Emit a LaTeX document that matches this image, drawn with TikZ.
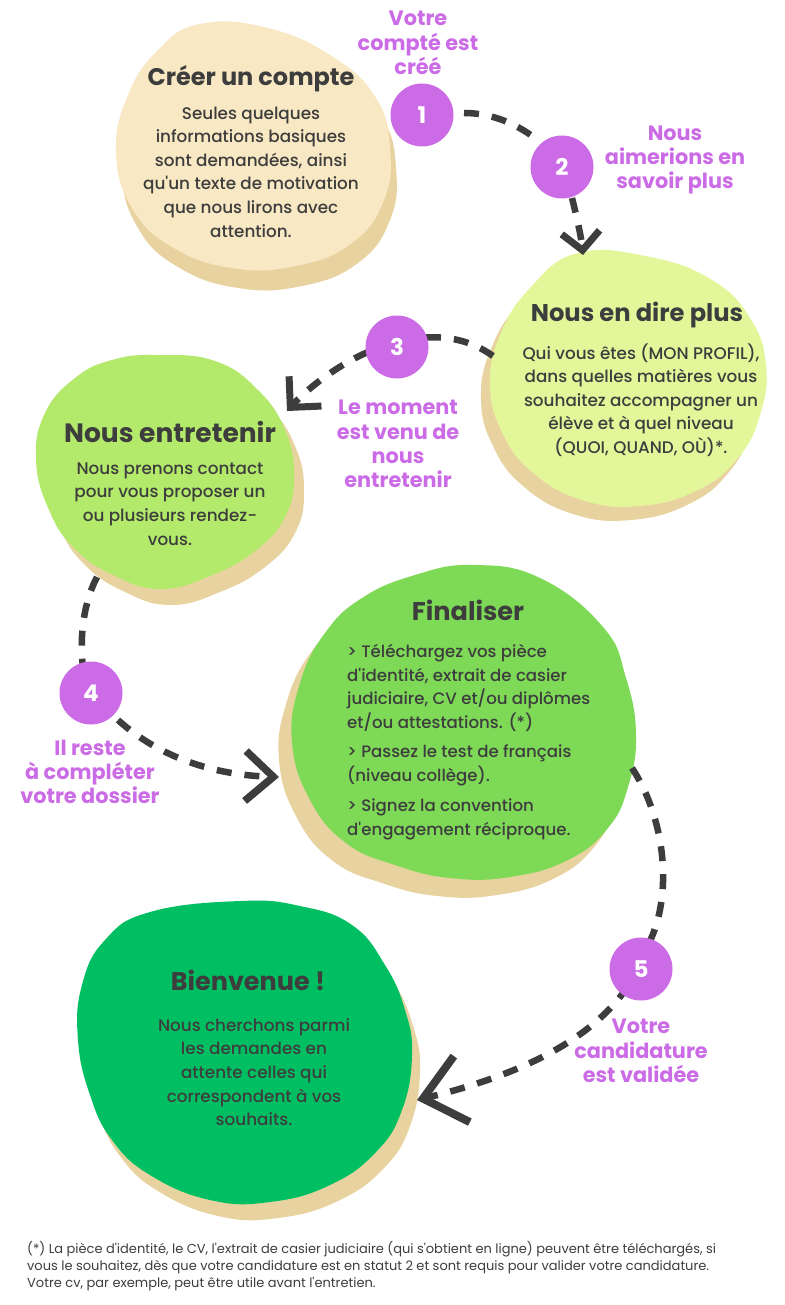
\documentclass[tikz,border=0pt]{standalone}
\usepackage{fontspec}
\setmainfont{Poppins}
\newfontfamily\bodyfont{Poppins Medium}
\usetikzlibrary{arrows.meta}

\definecolor{ink}{HTML}{3D3D3D}
\definecolor{tan}{HTML}{E8D3A0}
\definecolor{cream}{HTML}{F8E8C3}
\definecolor{lime}{HTML}{E3F79A}
\definecolor{leaf}{HTML}{B3EA6B}
\definecolor{grass}{HTML}{7ED957}
\definecolor{emerald}{HTML}{00BF63}
\definecolor{violet}{HTML}{CB6CE6}

\newcommand{\sq}{\textquotesingle}
% blob with its offset shadow: #1 outline, #2 shadow colour, #3 shadow offset, #4 fill
\newcommand{\blobshape}[4]{%
  \fill[#2, shift={#3}] plot[smooth cycle, tension=0.75] coordinates {#1};
  \fill[#4] plot[smooth cycle, tension=0.75] coordinates {#1};
}

\tikzset{
  stepnum/.style={circle, fill=violet, minimum size=63pt, inner sep=0pt, text=white,
    font=\bfseries\fontsize{23}{23}\selectfont},
  steplabel/.style={text=violet, align=center, inner sep=0pt,
    font=\bfseries\fontsize{20.8}{24.3}\selectfont},
  heading/.style={text=ink, inner sep=0pt, font=\bfseries\fontsize{#1}{28}\selectfont},
  heading/.default=24,
  body/.style={text=ink, align=center, inner sep=0pt, font=\bodyfont\fontsize{16.8}{23.6}\selectfont},
  bodyleft/.style={text=ink, align=left, inner sep=0pt, anchor=west, font=\bodyfont\fontsize{16.6}{23.8}\selectfont},
  note/.style={text=ink, align=left, inner sep=0pt, anchor=west, font=\fontsize{13}{17}\selectfont},
  link/.style={draw=ink, line width=6.5pt, dash pattern=on 15pt off 13pt},
}

\begin{document}
\begin{tikzpicture}[x=1pt, y=-1pt]
\useasboundingbox[fill=white] (0,0) rectangle (784,1305);

% ---- blobs ----
\blobshape{(200,24) (268,28) (333,57) (376,98) (390,148) (384,200) (352,243) (296,266) (232,268) (172,247) (132,208) (116,152) (128,95) (158,50)}{tan}{(6,20)}{cream}
\blobshape{(578,253) (650,257) (712,280) (750,318) (766,365) (760,415) (738,458) (698,490) (640,506) (582,500) (532,472) (502,432) (490,385) (500,335) (530,288)}{tan}{(-9,14)}{lime}
\blobshape{(157,355) (215,361) (258,390) (285,430) (294,475) (285,517) (255,551) (210,576) (160,589) (113,575) (74,548) (49,510) (36,460) (45,413) (75,378) (112,360)}{tan}{(10,16)}{leaf}
\blobshape{(473,565) (540,578) (603,627) (626,678) (636,735) (628,787) (608,828) (568,860) (510,877) (450,878) (395,865) (346,843) (310,800) (292,742) (300,683) (325,633) (362,598) (415,575)}{tan}{(-13,18)}{grass}
\blobshape{(240,901) (300,906) (352,925) (385,965) (405,1010) (412,1055) (402,1110) (376,1152) (330,1185) (270,1202) (210,1200) (150,1175) (112,1140) (90,1095) (78,1040) (82,985) (105,940) (150,912)}{tan}{(8,16)}{emerald}

% ---- connector end points ----
\coordinate (k1s) at (464,113);  \coordinate (k1e) at (540,142);
\coordinate (k2s) at (572,198);  \coordinate (k2e) at (583,255);
\coordinate (k3s) at (493,356);  \coordinate (k3e) at (418,338);
\coordinate (k4s) at (368,352);  \coordinate (k4e) at (287,411);
\coordinate (k5s) at (97,577);   \coordinate (k5e) at (83,668);
\coordinate (k6s) at (118,720);  \coordinate (k6e) at (279,777);
\coordinate (k7s) at (632,768);  \coordinate (k7e) at (648,945);
\coordinate (k8s) at (628,986);  \coordinate (k8e) at (417,1100);

% ---- connectors ----
\draw[link] (k1s) .. controls (492,113) and (518,124) .. (k1e);
\draw[link, -{Straight Barb[length=18pt, width=38pt, line width=7pt]}]
  (k2s) .. controls (577,218) and (581,236) .. (k2e);
\draw[link] (k3s) .. controls (472,341) and (448,335) .. (k3e);
\draw[link, -{Straight Barb[length=22pt, width=44pt, line width=7pt]}]
  (k4s) .. controls (340,364) and (310,386) .. (k4e);
\draw[link] (k5s) .. controls (85,600) and (79,632) .. (k5e);
\draw[link, -{Straight Barb[length=28pt, width=50pt, line width=7.5pt]}]
  (k6s) .. controls (160,758) and (215,775) .. (k6e);
\draw[link] (k7s) .. controls (665,818) and (674,895) .. (k7e);
\draw[link, -{Straight Barb[length=40pt, width=68pt, line width=8pt]}]
  (k8s) .. controls (592,1040) and (520,1075) .. (k8e);

% ---- numbered steps ----
\node[stepnum] (c1) at (422,115) {1};
\node[stepnum] (c2) at (562,167) {2};
\node[stepnum] (c3) at (397,347) {3};
\node[stepnum] (c4) at (91,693) {4};
\node[stepnum] (c5) at (641,969) {5};

% ---- step captions ----
\node[steplabel] (l1) at (418,43) {Votre\\compté est\\créé};
\node[steplabel] (l2) at (675,160) {Nous\\aimerions en\\savoir plus};
\node[steplabel] (l3) at (398,444) {Le moment\\est venu de\\nous\\entretenir};
\node[steplabel] (l4) at (90,772) {Il reste\\à compléter\\votre dossier};
\node[steplabel] (l5) at (641,1051) {Votre\\candidature\\est validée};

% ---- blob contents ----
\node[heading=24] (hA) at (251,79) {Créer un compte};
\node[body] (tA) at (251,172) {Seules quelques\\informations basiques\\sont demandées, ainsi\\qu\sq un texte de motivation\\que nous lirons avec\\attention.};

\node[heading=24.2] (hB) at (637,315) {Nous en dire plus};
\node[body] (tB) at (641,400) {Qui vous êtes (MON PROFIL),\\dans quelles matières vous\\souhaitez accompagner un\\élève et à quel niveau\\(QUOI, QUAND, OÙ)*.};

\node[heading=26.5] (hC) at (170,432) {Nous entretenir};
\node[body] (tC) at (170,504) {Nous prenons contact\\pour vous proposer un\\ou plusieurs rendez-\\vous.};

\node[heading=25.6] (hD) at (468,610) {Finaliser};
\node[bodyleft] (tD1) at (347,688) {> Téléchargez vos pièce\\d\sq identité, extrait de casier\\judiciaire, CV et/ou diplômes\\et/ou attestations. (*)};
\node[bodyleft] (tD2) at (347,765) {> Passez le test de français\\(niveau collège).};
\node[bodyleft] (tD3) at (347,819) {> Signez la convention\\d\sq engagement réciproque.};

\node[heading=25.5] (hE) at (248,980) {Bienvenue !};
\node[body] (tE) at (254,1072) {Nous cherchons parmi\\les demandes en\\attente celles qui\\correspondent à vos\\souhaits.};

% ---- footnote ----
\node[note] (fn) at (27,1266) {(*) La pièce d\sq identité, le CV, l\sq extrait de casier judiciaire (qui s\sq obtient en ligne) peuvent être téléchargés, si\\vous le souhaitez, dès que votre candidature est en statut 2 et sont requis pour valider votre candidature.\\Votre cv, par exemple, peut être utile avant l\sq entretien.};
\end{tikzpicture}
\end{document}
